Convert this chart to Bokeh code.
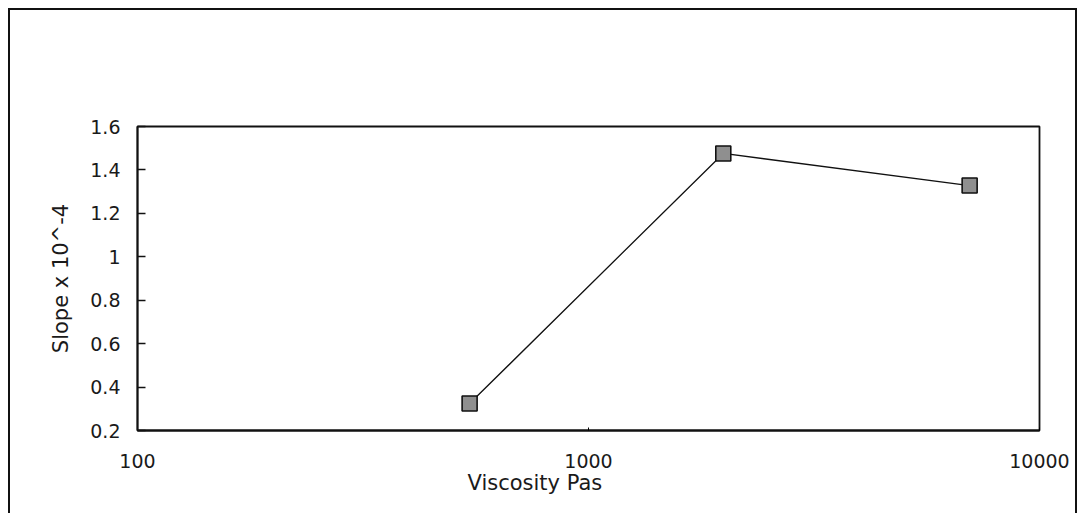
from bokeh.plotting import figure
from bokeh.models import FixedTicker, CustomJSTickFormatter, Range1d, Title
from bokeh.embed import file_html
from bokeh.resources import INLINE

viscosity = [545, 1990, 7000]
slope = [0.324, 1.476, 1.328]
x_ticks = [100, 1000, 10000]
y_ticks = [0.2, 0.4, 0.6, 0.8, 1.0, 1.2, 1.4, 1.6]
x_label = "Viscosity Pas"
y_label = "Slope x 10^-4"

FONT = "DejaVu Sans"
INK = "#1a1a1a"

p = figure(width=1069, height=505, output_backend="svg", toolbar_location=None,
           x_axis_type="log", x_range=Range1d(100, 10000), y_range=Range1d(0.2, 1.6),
           min_border_left=127, min_border_right=40, min_border_top=116, min_border_bottom=85)
p.styles = {"margin-left": "8px", "margin-top": "8px",
            "border-top": "2px solid #111", "border-left": "2px solid #111",
            "border-right": "2px solid #111"}
p.grid.visible = False
p.outline_line_color = "#111"
p.outline_line_width = 1.8
p.background_fill_color = "white"
p.border_fill_color = "white"

p.line(viscosity, slope, line_color="#111", line_width=1.3)
p.scatter(viscosity, slope, marker="square", size=15, fill_color="#8f8f8f",
          line_color="#111", line_width=1.6)

xa = p.xaxis[0]
xa.ticker = FixedTicker(ticks=x_ticks)
xa.formatter = CustomJSTickFormatter(code="return String(Math.round(tick));")
xa.major_tick_in = 3
xa.major_tick_out = 0
xa.minor_tick_line_color = None
xa.axis_line_color = "#111"
xa.axis_line_width = 1.8
xa.major_label_standoff = 23
xa.major_label_text_font = FONT
xa.major_label_text_font_size = "19px"
xa.major_label_text_color = INK

p.add_layout(Title(text=x_label, align="left", offset=330, standoff=-3,
                   text_font=FONT, text_font_size="21px", text_font_style="normal",
                   text_color=INK), "below")

ya = p.yaxis[0]
ya.ticker = FixedTicker(ticks=y_ticks)
ya.formatter = CustomJSTickFormatter(code="return String(Math.round(tick*10)/10);")
ya.major_tick_in = 8
ya.major_tick_out = 0
ya.minor_tick_line_color = None
ya.axis_line_color = "#111"
ya.axis_line_width = 1.8
ya.major_tick_line_width = 1.5
ya.major_tick_line_color = "#111"
ya.major_label_standoff = 17
ya.major_label_text_font = FONT
ya.major_label_text_font_size = "19px"
ya.major_label_text_color = INK
ya.axis_label = y_label
ya.axis_label_text_font = FONT
ya.axis_label_text_font_size = "21px"
ya.axis_label_text_font_style = "normal"
ya.axis_label_text_color = INK
ya.axis_label_standoff = 14

open("out.html", "w").write(file_html(p, INLINE))
